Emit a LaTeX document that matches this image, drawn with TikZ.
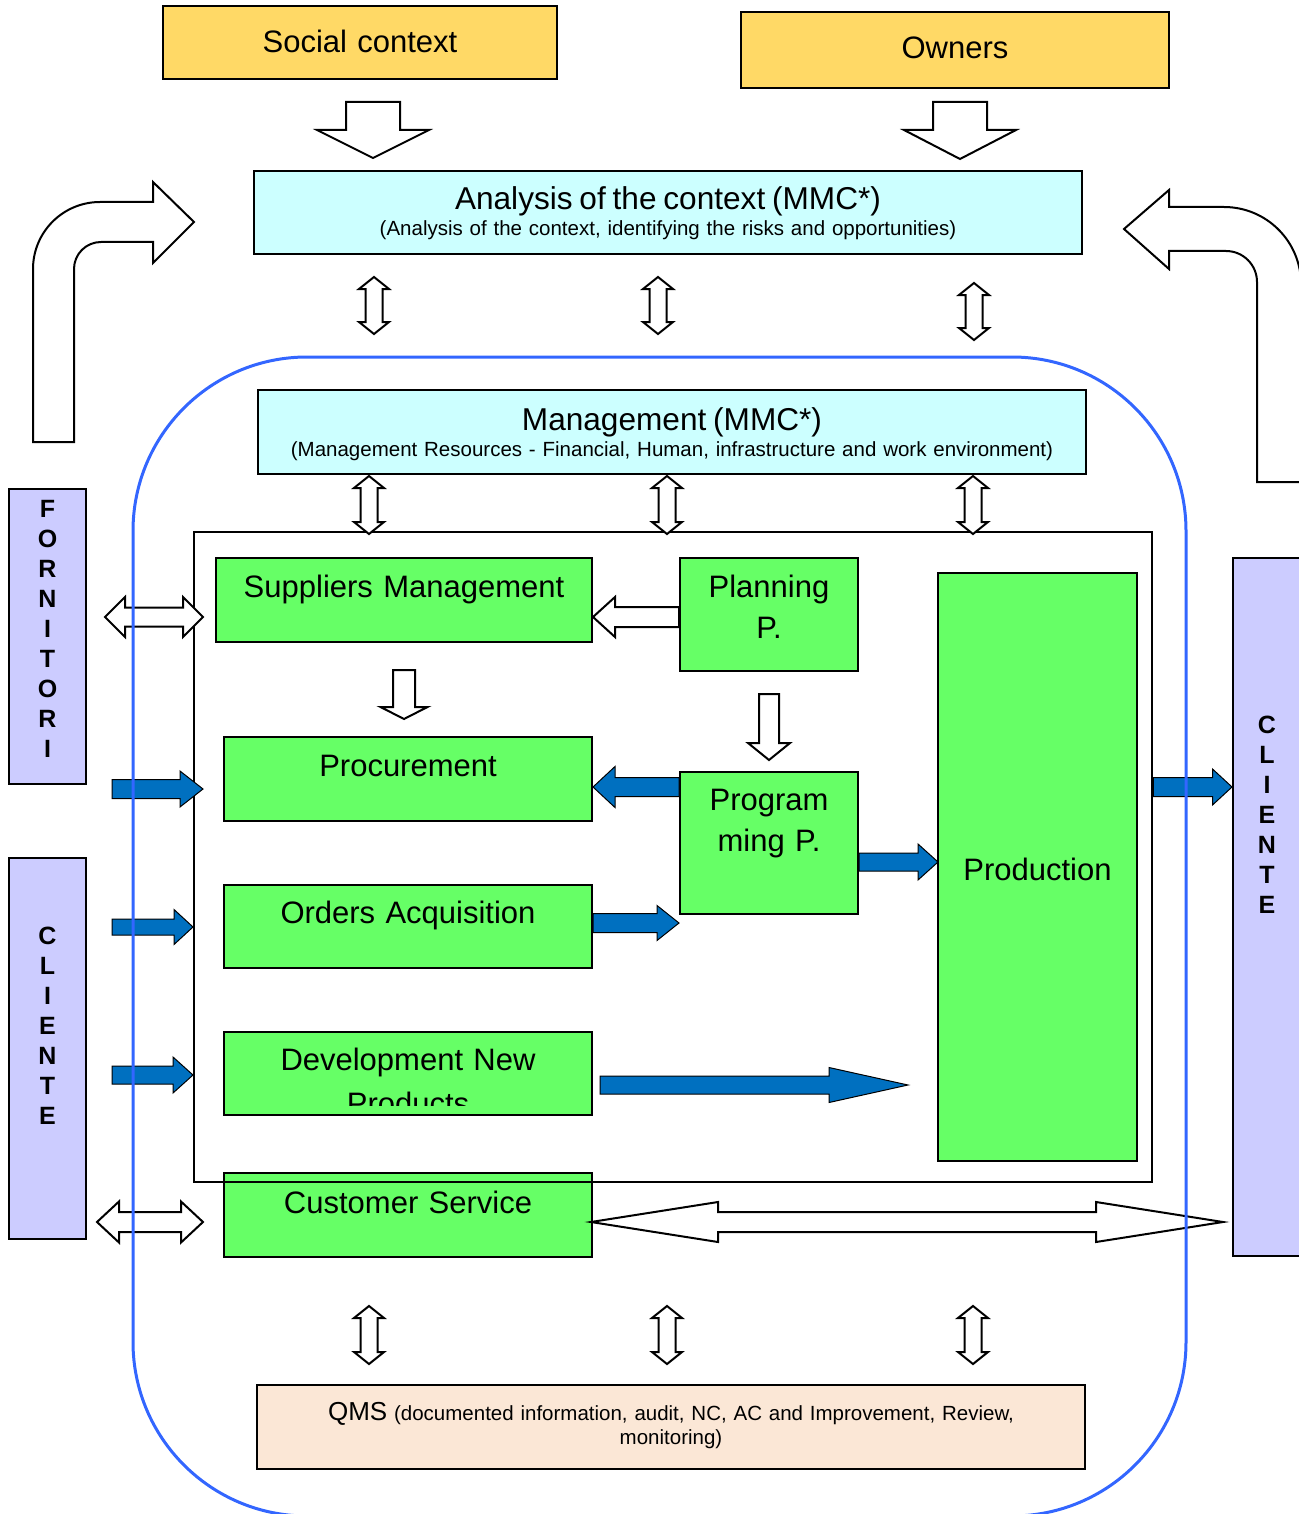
\documentclass[tikz,border=0pt]{standalone}
\usepackage{fontspec}
\setmainfont{Liberation Sans}
\usetikzlibrary{calc}
\definecolor{boxyellow}{RGB}{255,217,102}
\definecolor{boxcyan}{RGB}{204,255,255}
\definecolor{boxgreen}{RGB}{102,255,102}
\definecolor{boxlilac}{RGB}{204,204,255}
\definecolor{boxpeach}{RGB}{251,231,214}
\definecolor{arrowblue}{RGB}{0,112,192}
\definecolor{frameblue}{RGB}{51,102,255}
\newcommand{\bigtxt}{\fontsize{15.5}{20.5}\selectfont}
\newcommand{\titletxt}{\fontsize{15.8}{20.5}\selectfont}
\newcommand{\subtxt}{\fontsize{10.25}{13}\selectfont}
\tikzstyle{box} = [rectangle, draw=black, line width=1pt, inner sep=0pt, anchor=north west, align=center, font=\bigtxt]
\tikzstyle{yellowbox} = [box, fill=boxyellow]
\tikzstyle{cyanbox} = [box, fill=boxcyan, font=\subtxt]
\tikzstyle{greenbox} = [box, fill=boxgreen]
\tikzstyle{sidebox} = [box, fill=boxlilac, font=\bfseries\fontsize{12.5}{15}\selectfont]
\tikzstyle{qmsbox} = [box, fill=boxpeach, font=\fontsize{10.25}{12.25}\selectfont]
\tikzstyle{whitearrow} = [draw=black, fill=white, line width=1pt]
\tikzstyle{bluearrow} = [draw=black, fill=arrowblue, line width=0.5pt]
\tikzstyle{frame} = [draw=frameblue, line width=1.5pt, rounded corners=87pt]
\tikzset{
  boxdim/.style n args={3}{text width=#1, text height=#2, text depth=#3},
  % block arrow: shaft half width, head half width, head length
  oneway/.style n args={3}{to path={
    let \p1=(\tikztostart), \p2=(\tikztotarget), \p3=($(\p2)!#3!(\p1)$) in
    ($(\p1)!#1!90:(\p2)$) -- ($(\p3)!#1!90:(\p2)$) -- ($(\p3)!#2!90:(\p2)$) -- (\p2)
    -- ($(\p3)!#2!-90:(\p2)$) -- ($(\p3)!#1!-90:(\p2)$) -- ($(\p1)!#1!-90:(\p2)$) -- cycle}},
  twoway/.style n args={3}{to path={
    let \p1=(\tikztostart), \p2=(\tikztotarget), \p3=($(\p1)!#3!(\p2)$), \p4=($(\p2)!#3!(\p1)$) in
    (\p1) -- ($(\p3)!#2!90:(\p2)$) -- ($(\p3)!#1!90:(\p2)$) -- ($(\p4)!#1!90:(\p2)$) -- ($(\p4)!#2!90:(\p2)$) -- (\p2)
    -- ($(\p4)!#2!-90:(\p2)$) -- ($(\p4)!#1!-90:(\p2)$) -- ($(\p3)!#1!-90:(\p2)$) -- ($(\p3)!#2!-90:(\p2)$) -- cycle}}
}

\begin{document}
\begin{tikzpicture}[x=0.5pt, y=-0.5pt]
		\useasboundingbox (0,0) rectangle (1298,1514);

		% context
		\node (social) [yellowbox, boxdim={197pt}{23.5pt}{13pt}] at (162,5) {Social context};
		\node (owners) [yellowbox, boxdim={214pt}{23.5pt}{14.5pt}] at (740,11) {Owners};
		\node (analysis) [cyanbox, boxdim={414pt}{19.5pt}{22pt}] at (253,170) {{\titletxt Analysis of the context (MMC*)}\\(Analysis of the context, identifying the risks and opportunities)};
		\node (mgmt) [cyanbox, boxdim={414pt}{20pt}{22pt}] at (257,389) {{\titletxt Management (MMC*)}\\(Management Resources - Financial, Human, infrastructure and work environment)};

		% outside
		\node (fornitori) [sidebox, boxdim={38.5pt}{14pt}{133.5pt}] at (8,488) {F\\O\\R\\N\\I\\T\\O\\R\\I};
		\node (clientl) [sidebox, boxdim={38.5pt}{43pt}{147.5pt}] at (8,857) {C\\L\\I\\E\\N\\T\\E};
		\node (clientr) [sidebox, boxdim={34pt}{87.5pt}{261.5pt}] at (1232,557) {C\\L\\I\\E\\N\\T\\E};

		% processes
		\node (sup) [greenbox, boxdim={188pt}{19.5pt}{22.5pt}] at (215,557) {Suppliers Management};
		\node (plan) [greenbox, boxdim={89pt}{19.5pt}{37pt}] at (679,557) {Planning\\P.};
		\node (proc) [greenbox, boxdim={184pt}{19.5pt}{22.5pt}] at (223,736) {Procurement};
		\node (prog) [greenbox, boxdim={89pt}{19pt}{52pt}] at (679,771) {Program\\ming P.};
		\node (ord) [greenbox, boxdim={184pt}{19pt}{22.5pt}] at (223,884) {Orders Acquisition};
		\node (dev) [greenbox, boxdim={184pt}{19.25pt}{22.25pt}] at (223,1031) {Development New};
		\node (prod) [greenbox, boxdim={99.5pt}{153.5pt}{140.5pt}] at (937,572) {Production};
		\node (cust) [greenbox, boxdim={184pt}{20pt}{22pt}] at (223,1172) {Customer Service};
		\node (qms) [qmsbox, boxdim={414pt}{17.5pt}{24.5pt}] at (256,1384) {{\fontsize{13}{12.25}\selectfont QMS} (documented information, audit, NC, AC and Improvement, Review,\\monitoring)};
		\node (inner) [draw, line width=1.2pt, inner sep=0pt, anchor=north west, minimum width=479pt, minimum height=325pt] at (193,531) {};

		\begin{scope}
			\clip (dev.north west) rectangle ($(dev.south east)+(0,-11)$);
			\node (devp) [anchor=base, inner sep=0pt, font=\bigtxt] at ($(dev.south)+(0,-2)$) {Products};
		\end{scope}

		% feedback arrows
		\draw [whitearrow] (33,442) -- (33,269) arc (180:90:33.5pt) -- (153,202) -- (153,182) -- (194,222) -- (153,263) -- (153,242) -- (101,242) arc (90:180:13.5pt) -- (74,442) -- cycle;
		\draw [whitearrow] (1124,229) -- (1169,190) -- (1169,207) -- (1224,207) arc (90:0:38.5pt) -- (1301,482) -- (1257,482) -- (1257,282) arc (0:90:15.5pt) -- (1169,251) -- (1169,269) -- cycle;

		\draw [whitearrow, oneway={13.5pt}{28pt}{14pt}] ($(social.south)+(13,22)$) to ($(social.south)+(13,78)$);
		\draw [whitearrow, oneway={13.5pt}{28pt}{14.5pt}] ($(owners.south)+(5,13)$) to ($(owners.south)+(5,70)$);

		\draw [whitearrow, twoway={4.25pt}{7.5pt}{6pt}] ($(analysis.south)+(-294,22)$) to ($(analysis.south)+(-294,79)$);
		\draw [whitearrow, twoway={4.25pt}{7.5pt}{6pt}] ($(analysis.south)+(-10,22)$) to ($(analysis.south)+(-10,79)$);
		\draw [whitearrow, twoway={4.25pt}{7.5pt}{6pt}] ($(analysis.south)+(306,28)$) to ($(analysis.south)+(306,85)$);
		\draw [whitearrow, twoway={4.25pt}{7.5pt}{6pt}] ($(mgmt.south)+(-303,1)$) to ($(mgmt.south)+(-303,59)$);
		\draw [whitearrow, twoway={4.25pt}{7.5pt}{6pt}] ($(mgmt.south)+(-5,1)$) to ($(mgmt.south)+(-5,59)$);
		\draw [whitearrow, twoway={4.25pt}{7.5pt}{6pt}] ($(mgmt.south)+(301,1)$) to ($(mgmt.south)+(301,59)$);
		\draw [whitearrow, twoway={4.25pt}{7.5pt}{6pt}] ($(qms.north)+(-302,-78)$) to ($(qms.north)+(-302,-20)$);
		\draw [whitearrow, twoway={4.25pt}{7.5pt}{6pt}] ($(qms.north)+(-4,-78)$) to ($(qms.north)+(-4,-20)$);
		\draw [whitearrow, twoway={4.25pt}{7.5pt}{6pt}] ($(qms.north)+(302,-78)$) to ($(qms.north)+(302,-20)$);

		% suppliers and clients
		\draw [whitearrow, twoway={4.75pt}{10pt}{10pt}] ($(sup.west)+(-110,17)$) to ($(sup.west)+(-12,17)$);
		\draw [whitearrow, twoway={5pt}{10.25pt}{11pt}] ($(cust.west)+(-126,7)$) to ($(cust.west)+(-20,7)$);
		\draw [whitearrow, twoway={5pt}{10pt}{63.5pt}] ($(cust.east)+(-2,7)$) to ($(cust.east -| clientr.west)+(-9,7)$);
		\draw [bluearrow, oneway={4.75pt}{9pt}{11.5pt}] ($(proc.west)+(-111,10)$) to ($(proc.west)+(-20,10)$);
		\draw [bluearrow, oneway={4pt}{8.75pt}{9.5pt}] ($(ord.west)+(-111,0.5)$) to ($(ord.west)+(-30,0.5)$);
		\draw [bluearrow, oneway={4.5pt}{9pt}{10pt}] ($(dev.west)+(-111,1.5)$) to ($(dev.west)+(-30,1.5)$);
		\draw [bluearrow, oneway={4.75pt}{9pt}{9.75pt}] ($(inner.north east)+(0,256)$) to ($(inner.north east -| clientr.west)+(0,256)$);

		% internal flow
		\draw [whitearrow, oneway={5pt}{10pt}{11pt}] ($(plan.west)+(0,2.5)$) to ($(sup.east)+(0,17)$);
		\draw [whitearrow, oneway={5.5pt}{11.75pt}{6pt}] ($(sup.south)+(0,27)$) to ($(sup.south)+(0,76)$);
		\draw [whitearrow, oneway={5pt}{10.5pt}{8.5pt}] ($(plan.south)+(0,22)$) to ($(prog.north)+(0,-11)$);
		\draw [bluearrow, oneway={4.75pt}{10.25pt}{11pt}] ($(prog.west |- proc.east)+(0,8)$) to ($(proc.east)+(0,8)$);
		\draw [bluearrow, oneway={4.5pt}{9pt}{10pt}] ($(prog.east)+(0,19)$) to ($(prog.east -| prod.west)+(1,19)$);
		\draw [bluearrow, oneway={4.75pt}{8.75pt}{11pt}] ($(ord.east)+(0,-3.5)$) to ($(ord.east -| prog.west)+(0,-3.5)$);
		\draw [bluearrow, oneway={4.5pt}{8.75pt}{39.5pt}] ($(dev.east)+(7,11.5)$) to ($(dev.east -| prod.west)+(-29,11.5)$);

		% organisation
		\draw [frame] (133,357) rectangle (1186,1516);
	  \end{tikzpicture}
\end{document}
